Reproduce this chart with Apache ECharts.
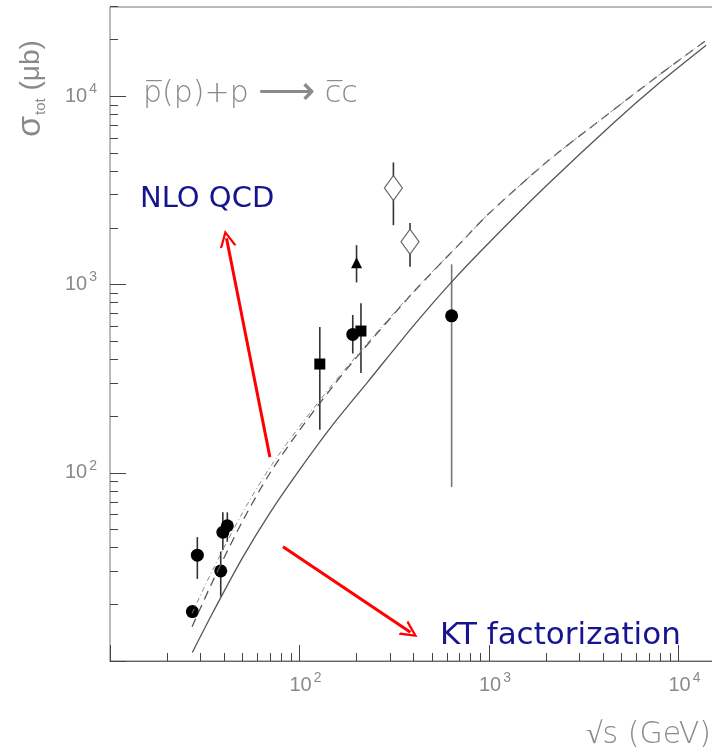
<!DOCTYPE html>
<html><head><meta charset="utf-8">
<script src="https://cdn.jsdelivr.net/npm/echarts@6/dist/echarts.min.js"></script>
<style>html,body{margin:0;padding:0;background:#fff}#c{width:712px;height:751px}</style>
</head><body><div id="c"></div>
<script>
// ---- axis definition (log10 decades) ----
const xDecadeMin = 1, xDecadeMax = 5;     // 10 GeV .. 1e5 GeV (plot is cut at the right)
const yDecadeMin = 1, yDecadeMax = 5;     // 10 ub .. 1e5 ub (plot is cut at the top)
const labelledExponents = [2, 3, 4];
const minorMultipliers = [2, 3, 4, 5, 6, 7, 8, 9];

// ---- theory curves ----
const solidSqrtS   = [27.2, 35, 50, 70, 100, 150, 230, 400, 634, 1000, 2000, 4600, 8000, 14000];
const solidSigma   = [11.1, 18.2, 35.3, 61.4, 103.5, 180, 305, 605, 1030, 1667, 3334, 7300, 11860, 18660];
const dashedSqrtS  = [27.1, 35, 50, 70, 100, 150, 208.5, 400, 731, 1000, 2000, 3855, 8000, 14000];
const dashedSigma  = [15.2, 26.8, 55.2, 100, 168, 288, 431, 912, 1721, 2382, 4446, 7460, 13090, 19820];
const dashDotSqrtS = [27.1, 35, 50, 70, 100, 150, 208.5, 400, 731, 1000, 2000, 3855, 8000, 14000];
const dashDotSigma = [17.9, 30.8, 61.2, 107, 176, 296, 439, 920, 1721, 2382, 4446, 7460, 13090, 19820];

// ---- data points ----
const circleSqrtS = [27.2, 28.9, 38.4, 39.4, 41.6, 191, 635];
const circleSigma = [18.3, 36.5, 30.1, 48.3, 52.3, 543, 682];
const circleLow   = [17.2, 27.3, 22.0, 38.9, 43.0, 430, 84];
const circleHigh  = [19.5, 45.5, 38.1, 61.6, 61.6, 689, 1279];

const squareSqrtS = [128, 211];
const squareSigma = [378, 566];
const squareLow   = [169, 339];
const squareHigh  = [594, 795];

const triangleSqrtS = [200];
const triangleSigma = [1303];
const triangleLow   = [1026];
const triangleHigh  = [1618];

const diamondSqrtS = [313, 383];
const diamondSigma = [3258, 1686];
const diamondLow   = [2066, 1241];
const diamondHigh  = [4450, 2124];

// ---- red annotation arrows (data space: start -> end) ----
const arrowFromS   = [69.8, 81.8];
const arrowFromSig = [121, 40.4];
const arrowToS     = [41.2, 385];
const arrowToSig   = [1760, 14.2];

// ---------------------------------------------------------
const L = Math.log10;
const pts = (xs, ys) => xs.map((x, i) => [L(x), L(ys[i])]);
const bars = (xs, lo, hi) => xs.map((x, i) => [L(x), L(lo[i]), L(hi[i])]);
const minorVals = [];
for (let d = 1; d < 5; d++) minorMultipliers.forEach(m => minorVals.push(L(m) + d));

const labelFmt = v => labelledExponents.indexOf(Math.round(v)) >= 0 && Math.abs(v - Math.round(v)) < 1e-6
  ? '{b|10}{s|' + Math.round(v) + '}' : '';
const labelRich = {
  b: {fontSize: 20, fontFamily: 'Liberation Sans', color: '#8a8a8a', lineHeight: 28},
  s: {fontSize: 14, fontFamily: 'Liberation Sans', color: '#8a8a8a', lineHeight: 16, verticalAlign: 'top', padding: [0, 0, 0, 2]}
};
const axisCol = '#666';
const grey = '#8a8a8a';

const errRender = (color) => function (params, api) {
  const p1 = api.coord([api.value(0), api.value(1)]);
  const p2 = api.coord([api.value(0), api.value(2)]);
  return {type: 'line', shape: {x1: p1[0], y1: p1[1], x2: p2[0], y2: p2[1]},
          style: {stroke: color, lineWidth: 1.6}};
};

const chevron = 'path://M10,0 L20,24 L17,24 L10,7 L3,24 L0,24 Z';

const grids = [
  {left: 110, right: -156, top: -92, bottom: 90, containLabel: false, outerBoundsMode: 'none'},
  {left: 110, right: -156, top: 7, bottom: 90, containLabel: false, outerBoundsMode: 'none',
   show: true, borderColor: '#777', borderWidth: 1, backgroundColor: 'transparent'}
];

const curveStyle = (color, width, type) => ({color: color, width: width, type: type});

const option = {
  animation: false,
  backgroundColor: '#fff',
  grid: grids,
  xAxis: [
    {gridIndex: 0, type: 'value', min: xDecadeMin, max: xDecadeMax, interval: 1, position: 'bottom',
     axisLine: {show: true, onZero: false, lineStyle: {color: axisCol, width: 1}},
     axisTick: {show: true, inside: true, length: 16, lineStyle: {color: '#444', width: 1}},
     axisLabel: {show: true, margin: 10, formatter: labelFmt, rich: labelRich, padding: [0, 0, 0, 12], hideOverlap: false},
     splitLine: {show: false}},
    {gridIndex: 0, type: 'value', min: xDecadeMin, max: xDecadeMax, position: 'bottom',
     axisLine: {show: false, onZero: false},
     axisTick: {show: true, inside: true, length: 8, customValues: minorVals, lineStyle: {color: '#444', width: 1}},
     axisLabel: {show: false}, splitLine: {show: false}},
    {gridIndex: 1, type: 'value', min: 0, max: 1, show: false}
  ],
  yAxis: [
    {gridIndex: 0, type: 'value', min: yDecadeMin, max: yDecadeMax, interval: 1, position: 'left',
     axisLine: {show: false, onZero: false},
     axisTick: {show: true, inside: true, length: 16, lineStyle: {color: '#444', width: 1}},
     axisLabel: {show: true, margin: 13, formatter: labelFmt, rich: labelRich, hideOverlap: false},
     splitLine: {show: false}},
    {gridIndex: 0, type: 'value', min: yDecadeMin, max: yDecadeMax, position: 'left',
     axisLine: {show: false, onZero: false},
     axisTick: {show: true, inside: true, length: 8, customValues: minorVals, lineStyle: {color: '#444', width: 1}},
     axisLabel: {show: false}, splitLine: {show: false}},
    {gridIndex: 1, type: 'value', min: 0, max: 1, show: false}
  ],
  series: [
    {name: 'solid', type: 'line', xAxisIndex: 0, yAxisIndex: 0, data: pts(solidSqrtS, solidSigma),
     showSymbol: false, smooth: 0.3, lineStyle: curveStyle('#555', 1.3, 'solid'), silent: true,
     markLine: {silent: true, symbol: ['none', chevron], symbolSize: 17, label: {show: false},
       lineStyle: {color: '#ff0000', width: 3, type: 'solid'},
       data: arrowFromS.map((s, i) => [{coord: [L(s), L(arrowFromSig[i])]}, {coord: [L(arrowToS[i]), L(arrowToSig[i])]}])}},
    {name: 'dashed', type: 'line', xAxisIndex: 0, yAxisIndex: 0, data: pts(dashedSqrtS, dashedSigma),
     showSymbol: false, smooth: 0.3, lineStyle: curveStyle('#555', 1.3, [9, 6]), silent: true},
    {name: 'dashdot', type: 'line', xAxisIndex: 0, yAxisIndex: 0, data: pts(dashDotSqrtS, dashDotSigma),
     showSymbol: false, smooth: 0.3, lineStyle: curveStyle('#888', 1, [5, 3, 1, 3]), silent: true},
    {type: 'custom', xAxisIndex: 0, yAxisIndex: 0, renderItem: errRender('#333'), data: bars(circleSqrtS.slice(0, 6), circleLow.slice(0, 6), circleHigh.slice(0, 6)), silent: true},
    {type: 'custom', xAxisIndex: 0, yAxisIndex: 0, renderItem: errRender('#777'), data: bars(circleSqrtS.slice(6), circleLow.slice(6), circleHigh.slice(6)), silent: true},
    {type: 'custom', xAxisIndex: 0, yAxisIndex: 0, renderItem: errRender('#333'), data: bars(squareSqrtS, squareLow, squareHigh), silent: true},
    {type: 'custom', xAxisIndex: 0, yAxisIndex: 0, renderItem: errRender('#333'), data: bars(triangleSqrtS, triangleLow, triangleHigh), silent: true},
    {type: 'custom', xAxisIndex: 0, yAxisIndex: 0, renderItem: errRender('#333'), data: bars(diamondSqrtS, diamondLow, diamondHigh), silent: true},
    {type: 'scatter', xAxisIndex: 0, yAxisIndex: 0, data: pts(circleSqrtS, circleSigma), symbol: 'circle', symbolSize: 13,
     itemStyle: {color: '#000', opacity: 1}, silent: true},
    {type: 'scatter', xAxisIndex: 0, yAxisIndex: 0, data: pts(squareSqrtS, squareSigma), symbol: 'rect', symbolSize: 11,
     itemStyle: {color: '#000', opacity: 1}, silent: true},
    {type: 'scatter', xAxisIndex: 0, yAxisIndex: 0, data: pts(triangleSqrtS, triangleSigma), symbol: 'triangle', symbolSize: 11,
     itemStyle: {color: '#000', opacity: 1}, silent: true},
    {type: 'scatter', xAxisIndex: 0, yAxisIndex: 0, data: pts(diamondSqrtS, diamondSigma), symbol: 'diamond', symbolSize: [18, 25],
     itemStyle: {color: '#fff', borderColor: '#666', borderWidth: 1.2, opacity: 1}, silent: true}
  ],
  graphic: [
    {type: 'text', x: 31, y: 137, rotation: Math.PI / 2, silent: true,
     style: {text: '{a|σ}{b|tot}{c| (μb)}', align: 'left', verticalAlign: 'middle', fill: grey,
       rich: {a: {fontSize: 34, fontFamily: 'Liberation Sans', fill: grey, lineHeight: 34},
              b: {fontSize: 15, fontFamily: 'Liberation Sans', fill: grey, verticalAlign: 'bottom', lineHeight: 30, padding: [0, 0, 0, 1]},
              c: {fontSize: 28, fontFamily: 'Liberation Sans', fill: grey, lineHeight: 34}}}},
    {type: 'text', x: 711, y: 735, silent: true,
     style: {text: '√s (GeV)', align: 'right', verticalAlign: 'middle', fontSize: 30, fontFamily: 'DejaVu Sans', fontWeight: 200, fill: grey}},
    {type: 'text', x: 143, y: 94, silent: true,
     style: {text: '{t|p\u0305(p)+p }{r|\u27F6}{t| c\u0305c}', align: 'left', verticalAlign: 'middle', fill: grey,
       rich: {t: {fontSize: 30, fontFamily: 'DejaVu Sans', fontWeight: 200, fill: grey, lineHeight: 36},
              r: {fontSize: 40, fontFamily: 'DejaVu Sans', fontWeight: 200, fill: grey, lineHeight: 36}}}},
    {type: 'text', x: 140, y: 199, silent: true,
     style: {text: 'NLO QCD', align: 'left', verticalAlign: 'middle', fontSize: 29, fontFamily: 'DejaVu Sans', fill: '#15158f'}},
    {type: 'text', x: 440, y: 636, silent: true,
     style: {text: 'KT factorization', align: 'left', verticalAlign: 'middle', fontSize: 31, fontFamily: 'DejaVu Sans', fill: '#15158f'}}
  ]
};
const chart = echarts.init(document.getElementById('c'), null, {renderer: 'canvas'});
chart.setOption(option);
</script></body></html>
